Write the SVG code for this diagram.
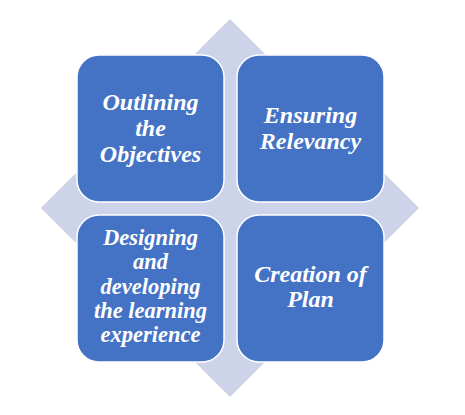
<svg xmlns="http://www.w3.org/2000/svg" width="465" height="415" viewBox="0 0 465 415">
<style>
.box{fill:#4472C4;stroke:#FFFFFF;stroke-width:1.5}
.t{font-weight:bold;font-style:italic;fill:#FFFFFF;text-anchor:middle}
</style>
<rect width="465" height="415" fill="#FFFFFF"/>
<g id="background">
<polygon points="230,19 419,208 230,397 41,208" fill="#CDD4EA"/>
</g>
<g id="connectors"/>
<g id="node1">
<rect class="box" x="77" y="55" width="147" height="147" rx="22"/>
<text class="t" font-family="Liberation Serif, DejaVu Serif, serif" font-size="24"><tspan x="150.5" y="110">Outlining</tspan><tspan x="150.5" y="136">the</tspan><tspan x="150.5" y="162">Objectives</tspan></text>
</g>
<g id="node2">
<rect class="box" x="237" y="55" width="147" height="147" rx="22"/>
<text class="t" font-family="Liberation Serif, DejaVu Serif, serif" font-size="24"><tspan x="310.5" y="123">Ensuring</tspan><tspan x="310.5" y="148.5">Relevancy</tspan></text>
</g>
<g id="node3">
<rect class="box" x="77" y="215" width="147" height="147" rx="22"/>
<text class="t" font-family="Liberation Serif, DejaVu Serif, serif" font-size="22.5"><tspan x="150.5" y="245">Designing</tspan><tspan x="150.5" y="269">and</tspan><tspan x="150.5" y="293.5">developing</tspan><tspan x="150.5" y="318">the learning</tspan><tspan x="150.5" y="342">experience</tspan></text>
</g>
<g id="node4">
<rect class="box" x="237" y="215" width="147" height="147" rx="22"/>
<text class="t" font-family="Liberation Serif, DejaVu Serif, serif" font-size="24"><tspan x="310.5" y="282">Creation of</tspan><tspan x="310.5" y="307">Plan</tspan></text>
</g>
</svg>
